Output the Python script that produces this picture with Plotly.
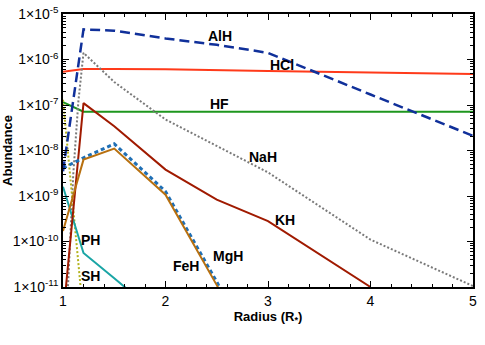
import plotly.graph_objects as go

# radius grid (R*) and abundances
r_alh = [1.0, 1.2, 1.5, 2.0, 2.5, 3.0, 4.0, 5.0]
alh = [3.5e-9, 4.6e-6, 4.3e-6, 2.9e-6, 2.1e-6, 1.4e-6, 1.7e-7, 2.1e-8]

r_hcl = [1.0, 1.2, 1.5, 2.0, 3.0, 4.0, 5.0]
hcl = [5.4e-7, 6.2e-7, 6.2e-7, 6.1e-7, 5.6e-7, 5.2e-7, 4.8e-7]

r_hf = [1.0, 1.2, 2.0, 3.0, 4.0, 5.0]
hf = [1.15e-7, 7.1e-8, 7.1e-8, 7.1e-8, 7.1e-8, 7.1e-8]

r_nah = [1.0, 1.05, 1.1, 1.15, 1.2, 1.5, 2.0, 3.0, 4.0, 5.0]
nah = [1e-13, 1.2e-11, 3e-9, 1.2e-7, 1.4e-6, 3.2e-7, 4.8e-8, 3.3e-9, 1.1e-10, 1.05e-11]

r_kh = [1.0, 1.2, 1.5, 2.0, 2.5, 3.0, 4.0]
kh = [2.1e-12, 1.1e-7, 3.4e-8, 3.8e-9, 8.3e-10, 2.8e-10, 1.0e-11]

r_feh = [1.0, 1.2, 1.5, 2.0, 2.5, 3.0]
feh = [1.7e-10, 6.3e-9, 1.1e-8, 1.07e-9, 1.1e-11, 1e-13]

r_mgh = [1.0, 1.2, 1.5, 2.0, 2.5, 3.0]
mgh = [4.1e-9, 6.9e-9, 1.4e-8, 1.26e-9, 1.3e-11, 1e-13]

r_ph = [1.0, 1.2, 1.5, 2.0]
ph = [1.6e-9, 5.6e-11, 1.55e-11, 1.8e-12]

r_sh = [1.0, 1.2]
sh = [1.3e-7, 2.1e-12]

ytick_vals = [1e-11, 1e-10, 1e-9, 1e-8, 1e-7, 1e-6, 1e-5]
ytick_text = ["1×10<sup>-11</sup>", "1×10<sup>-10</sup>", "1×10<sup>-9</sup>",
              "1×10<sup>-8</sup>", "1×10<sup>-7</sup>", "1×10<sup>-6</sup>",
              "1×10<sup>-5</sup>"]

fig = go.Figure()

def add(x, y, color, dash="solid", width=2):
    fig.add_trace(go.Scatter(x=x, y=y, mode="lines",
                             line=dict(color=color, dash=dash, width=width),
                             showlegend=False))

add(r_hf, hf, "#1e961e")
add(r_hcl, hcl, "#ff3a1a")
add(r_nah, nah, "#7a7a7a", "2px,2px", 2)
add(r_sh, sh, "#b4b41e", "2px,2px", 2)
add(r_ph, ph, "#1aa5a5")
add(r_kh, kh, "#a01a00")
add(r_mgh, mgh, "#1f6fb5", "4px,3px", 3)
add(r_feh, feh, "#b8700f")
add(r_alh, alh, "#10309a", "10px,5px", 2.5)

labels = [("AlH", 2.53, -5.48), ("HCl", 3.14, -6.12), ("HF", 2.53, -6.97),
          ("NaH", 2.95, -8.14), ("KH", 3.17, -9.52), ("MgH", 2.61, -10.31),
          ("FeH", 2.2, -10.54), ("PH", 1.27, -9.96), ("SH", 1.27, -10.75)]
for txt, lx, ly in labels:
    fig.add_annotation(x=lx, y=ly, text="<b>" + txt + "</b>", showarrow=False,
                       font=dict(size=14, color="black", family="Liberation Sans"))

minor_y = [m * 10 ** e for e in range(-11, -5) for m in range(2, 10)]

fig.update_xaxes(range=[1, 5], tickmode="array", tickvals=[1, 2, 3, 4, 5],
                 ticks="inside", ticklen=6, tickwidth=1, tickcolor="black",
                 minor=dict(ticks="inside", ticklen=3, dtick=0.2, tickcolor="black"),
                 showline=True, linecolor="black", linewidth=1.5, mirror="ticks",
                 showgrid=False, zeroline=False, automargin=False,
                 tickfont=dict(size=14), ticklabeloverflow="allow",
                 title=dict(text="<b>Radius (R<sub>*</sub>)</b>", standoff=0,
                            font=dict(size=13)))
fig.update_yaxes(type="log", range=[-11, -5], tickmode="array",
                 tickvals=ytick_vals, ticktext=ytick_text,
                 ticks="inside", ticklen=6, tickwidth=1, tickcolor="black",
                 minor=dict(ticks="inside", ticklen=3, tickmode="array",
                            tickvals=minor_y, tickcolor="black"),
                 showline=True, linecolor="black", linewidth=1.5, mirror="ticks",
                 showgrid=False, zeroline=False, automargin=False,
                 tickfont=dict(size=14), ticklabelstandoff=0,
                 ticklabeloverflow="allow",
                 title=dict(text="<b>Abundance</b>", standoff=0,
                            font=dict(size=13)))

fig.update_layout(width=485, height=345,
                  margin=dict(l=63, r=12, t=14, b=58),
                  plot_bgcolor="white", paper_bgcolor="white",
                  font=dict(family="Liberation Sans", size=13, color="black"))

# drop the page's default body margin so the figure sits at the corner
fig.write_html("out.html", config={"displayModeBar": False},
               post_script="document.body.style.margin='0';")
